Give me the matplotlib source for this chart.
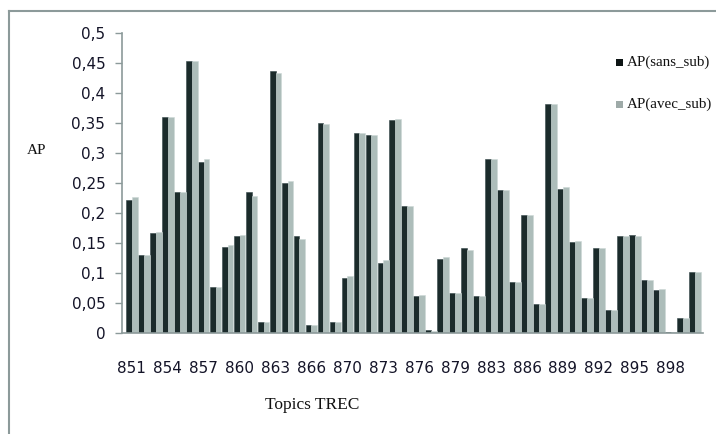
import matplotlib
matplotlib.use("Agg")
import matplotlib.pyplot as plt
from matplotlib.lines import Line2D
from matplotlib.patches import Rectangle
import numpy as np

topics = [t for t in range(851, 901) if t not in (869, 882)]
sans_sub = [0.221, 0.13, 0.166, 0.36, 0.235, 0.454, 0.285, 0.077, 0.143, 0.161,
            0.235, 0.018, 0.436, 0.25, 0.161, 0.013, 0.35, 0.018, 0.092, 0.334,
            0.33, 0.116, 0.355, 0.211, 0.062, 0.005, 0.124, 0.067, 0.141, 0.062,
            0.29, 0.238, 0.085, 0.196, 0.048, 0.381, 0.24, 0.151, 0.058, 0.141,
            0.038, 0.161, 0.164, 0.089, 0.072, 0.002, 0.025, 0.102]
avec_sub = [0.226, 0.13, 0.168, 0.36, 0.235, 0.454, 0.29, 0.077, 0.146, 0.164,
            0.228, 0.018, 0.434, 0.253, 0.156, 0.013, 0.349, 0.018, 0.095, 0.334,
            0.33, 0.121, 0.357, 0.211, 0.064, 0.004, 0.127, 0.067, 0.139, 0.062,
            0.29, 0.238, 0.085, 0.196, 0.048, 0.381, 0.243, 0.154, 0.058, 0.141,
            0.038, 0.161, 0.161, 0.089, 0.074, 0.002, 0.025, 0.102]
yticks = [0, 0.05, 0.1, 0.15, 0.2, 0.25, 0.3, 0.35, 0.4, 0.45, 0.5]
series_names = ["AP(sans_sub)", "AP(avec_sub)"]

W, H = 716, 434
fig = plt.figure(figsize=(W / 100, H / 100), dpi=100)
ax = fig.add_axes([122 / W, (H - 333) / H, (702.5 - 122) / W, 300 / H])

dark = "#1b2b2b"
light = "#adbdba"
axis_col = "#8c9a9a"
x = np.arange(len(topics))
bw = 0.485
ax.bar(x, sans_sub, width=-bw, align="edge", color=dark, edgecolor="#34484a", linewidth=0.4)
ax.bar(x, avec_sub, width=bw, align="edge", color=light, edgecolor="#cdd8d6", linewidth=0.4)

ax.set_xlim(-0.82, 47.65)
ax.set_ylim(0, 0.5)
ax.set_yticks(yticks)
ax.set_yticklabels([("%g" % v).replace(".", ",") for v in yticks],
                   fontsize=11, color="#141428")
ax.tick_params(axis="y", length=5, width=1, color=axis_col, pad=7)
ax.set_xticks(x[::3])
ax.set_xticklabels([str(topics[i]) for i in x[::3]], fontsize=11, color="#141428")
ax.tick_params(axis="x", length=0, pad=20)

for s in ["top", "right"]:
    ax.spines[s].set_visible(False)
for s in ["left", "bottom"]:
    ax.spines[s].set_color(axis_col)
    ax.spines[s].set_linewidth(1.2)

fig.text(27 / W, 1 - 150 / H, "AP", fontsize=11, family="Liberation Serif",
         va="center", ha="left", color="#111111")
fig.text(265 / W, 1 - 405 / H, "Topics TREC", fontsize=12.5, family="Liberation Serif",
         va="center", ha="left", color="#111111")

# legend
for yy, col, name in [(62, "#0d1414", series_names[0]), (104, "#9eaaa8", series_names[1])]:
    fig.patches.append(Rectangle((616 / W, 1 - (yy + 3.5) / H), 7 / W, 7 / H,
                                 transform=fig.transFigure, facecolor=col,
                                 edgecolor="none"))
    fig.text(627 / W, 1 - yy / H, name, fontsize=10.8, family="Liberation Serif",
             va="center", ha="left", color="#111111")

# outer frame
fig.add_artist(Line2D([8.5 / W, 8.5 / W], [0, 1 - 11 / H], transform=fig.transFigure,
                      color="#8c9a9a", linewidth=1.5))
fig.add_artist(Line2D([8.5 / W, 1], [1 - 11 / H, 1 - 11 / H], transform=fig.transFigure,
                      color="#8c9a9a", linewidth=1.5))

fig.savefig("out.png", dpi=100)
